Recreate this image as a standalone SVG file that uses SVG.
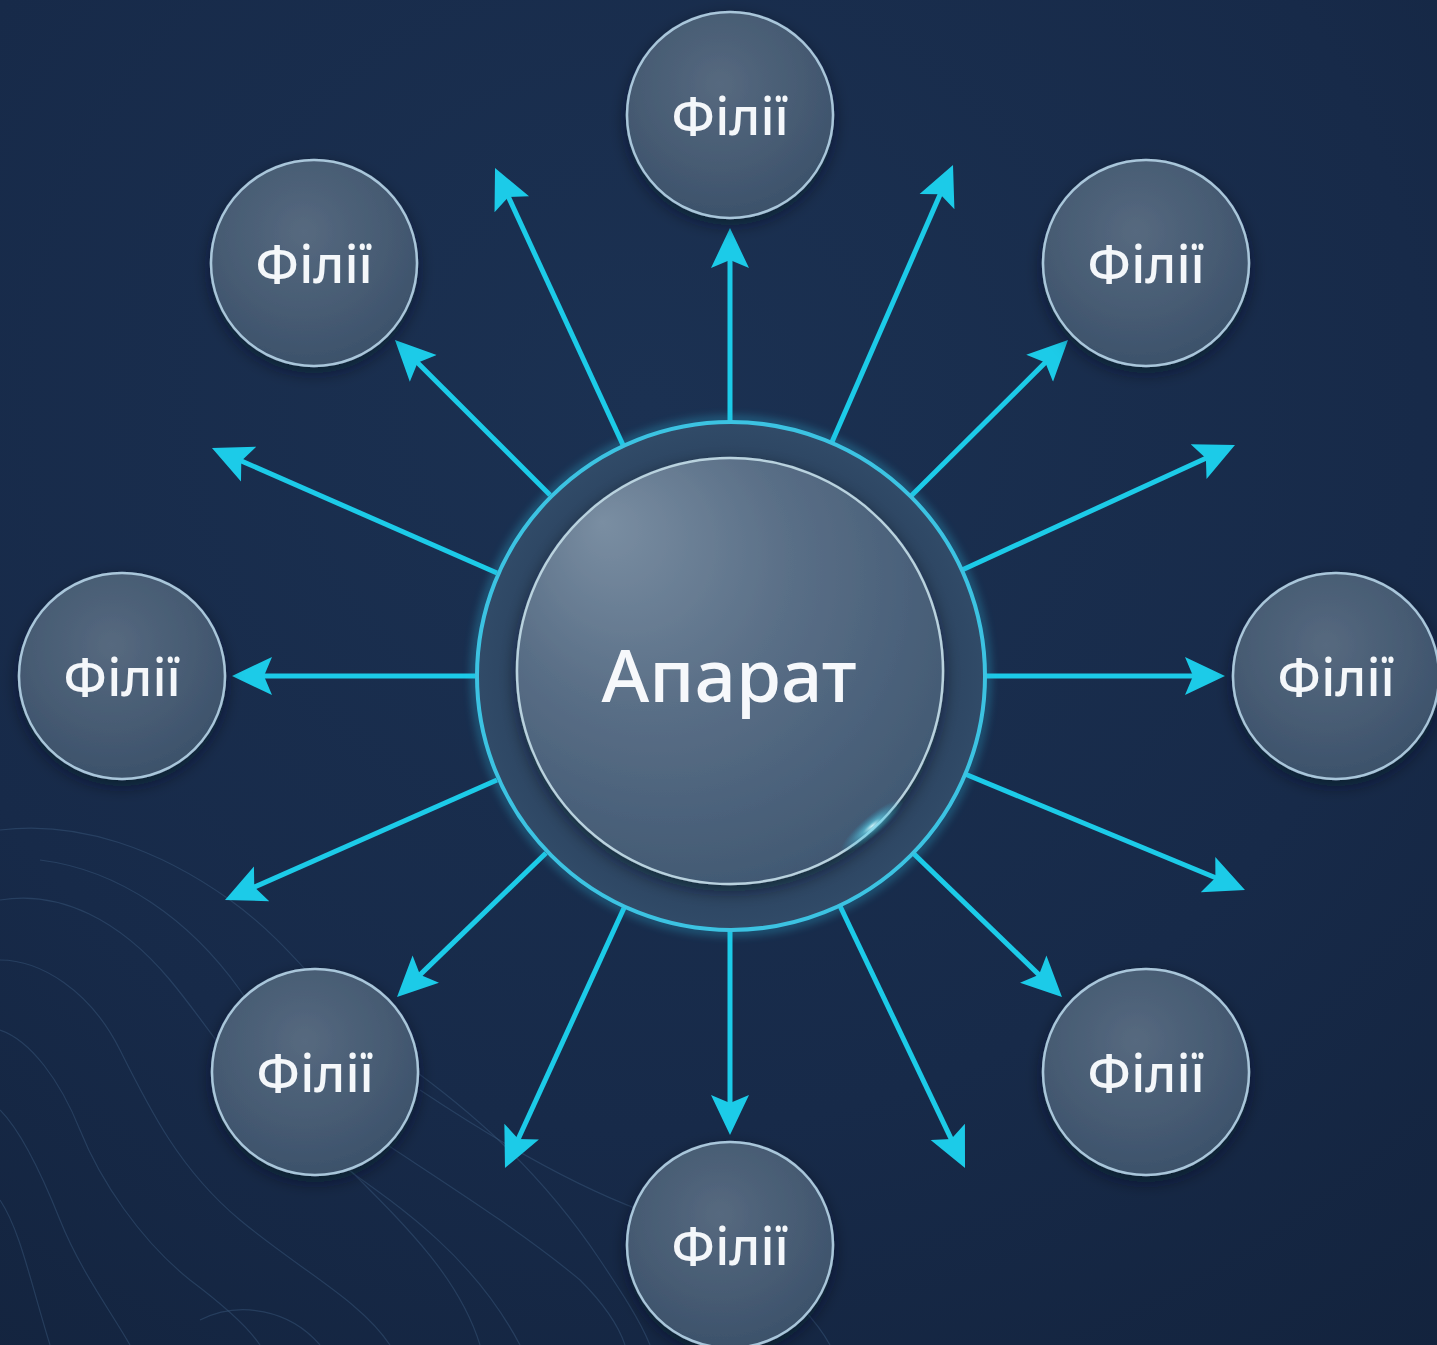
<svg xmlns="http://www.w3.org/2000/svg" width="1437" height="1345" viewBox="0 0 1437 1345">
  <defs>
    <radialGradient id="bg" cx="0.45" cy="0.3" r="0.9">
      <stop offset="0" stop-color="#1b3152"/>
      <stop offset="0.6" stop-color="#172a49"/>
      <stop offset="1" stop-color="#13233d"/>
    </radialGradient>
    <radialGradient id="smallFill" cx="0.45" cy="0.35" r="0.7">
      <stop offset="0" stop-color="#56697f"/>
      <stop offset="0.7" stop-color="#435870"/>
      <stop offset="1" stop-color="#3a4f69"/>
    </radialGradient>
    <radialGradient id="innerFill" cx="0.42" cy="0.35" r="0.75" fx="0.2" fy="0.15">
      <stop offset="0" stop-color="#7a8ea2"/>
      <stop offset="0.45" stop-color="#5a6f87"/>
      <stop offset="1" stop-color="#3d556f"/>
    </radialGradient>
    <radialGradient id="ringFill" cx="0.5" cy="0.5" r="0.5">
      <stop offset="0.8" stop-color="#2b4360"/>
      <stop offset="1" stop-color="#314b68"/>
    </radialGradient>
    <radialGradient id="glint" cx="0.5" cy="0.5" r="0.5">
      <stop offset="0" stop-color="#d8fbff" stop-opacity="0.95"/>
      <stop offset="0.3" stop-color="#5fd8f0" stop-opacity="0.6"/>
      <stop offset="1" stop-color="#2aa8d0" stop-opacity="0"/>
    </radialGradient>
    <filter id="shadow" x="-30%" y="-30%" width="160%" height="160%">
      <feDropShadow dx="0" dy="6" stdDeviation="8" flood-color="#050d1c" flood-opacity="0.55"/>
    </filter>
    <filter id="glow" x="-20%" y="-20%" width="140%" height="140%">
      <feGaussianBlur stdDeviation="4"/>
    </filter>
    <marker id="head" viewBox="0 0 40 40" markerWidth="40" markerHeight="40" markerUnits="userSpaceOnUse" refX="20" refY="20" orient="auto">
      <path d="M0,1 L40,20 L0,39 L8,20 z" fill="#1ccbe8"/>
    </marker>
  </defs>
  <style>
    .conn { stroke: #1ccbe8; stroke-width: 5; fill: none; marker-end: url(#head); }
    .small { fill: url(#smallFill); stroke: #a9c6da; stroke-width: 2.5; filter: url(#shadow); }
    .lbl { font-family: "Noto Sans", "Open Sans", "DejaVu Sans", sans-serif; font-size: 52px; font-weight: 500; fill: #f4f7fa; text-anchor: middle; }
    .topo { fill: none; stroke: #3b5a7e; stroke-width: 1.2; opacity: 0.45; }
  </style>

  <rect x="0" y="0" width="1437" height="1345" fill="url(#bg)"/>

  <g id="topography">
    <path class="topo" d="M0,830 C80,820 160,850 230,900 C300,950 330,1010 400,1060 C470,1110 540,1170 600,1260 C620,1290 640,1320 650,1345"/>
    <path class="topo" d="M0,900 C60,890 120,920 170,980 C220,1040 250,1100 320,1150 C390,1200 470,1250 520,1345"/>
    <path class="topo" d="M0,960 C40,960 90,990 120,1050 C150,1110 180,1170 240,1220 C300,1270 360,1300 390,1345"/>
    <path class="topo" d="M0,1030 C30,1040 60,1080 80,1130 C100,1180 140,1240 190,1280 C230,1310 250,1330 260,1345"/>
    <path class="topo" d="M0,1110 C20,1130 40,1170 60,1220 C80,1270 110,1310 130,1345"/>
    <path class="topo" d="M40,860 C120,870 190,920 240,990 C280,1050 300,1110 350,1170 C410,1230 460,1280 480,1345"/>
    <path class="topo" d="M0,1200 C20,1230 30,1280 50,1345"/>
    <path class="topo" d="M420,1090 C480,1130 560,1180 640,1210 C720,1240 800,1290 830,1345"/>
    <path class="topo" d="M380,1140 C440,1180 520,1230 580,1280 C610,1310 620,1330 625,1345"/>
    <path class="topo" d="M200,1320 C240,1300 290,1310 320,1345"/>
  </g>

  <g id="connectors">
    <path class="conn" d="M730,421 L730,248"/>
    <path class="conn" d="M623,445 L503.4,186.1"/>
    <path class="conn" d="M832,442 L945,183.3"/>
    <path class="conn" d="M550,495 L409.1,354.2"/>
    <path class="conn" d="M911,496 L1053.8,354.1"/>
    <path class="conn" d="M497,573 L230.3,456.1"/>
    <path class="conn" d="M962,570 L1216.8,453.3"/>
    <path class="conn" d="M475,676 L252,676"/>
    <path class="conn" d="M985,676 L1205,676"/>
    <path class="conn" d="M497,780 L243.3,891.9"/>
    <path class="conn" d="M965,774 L1226.5,882.3"/>
    <path class="conn" d="M546,853 L411.4,983.1"/>
    <path class="conn" d="M913,853 L1047.6,983.1"/>
    <path class="conn" d="M624,908 L513.3,1149.8"/>
    <path class="conn" d="M840,906 L956.4,1149.9"/>
    <path class="conn" d="M730,931 L730,1115"/>
  </g>

  <g id="center-node">
    <circle cx="731" cy="676" r="256" fill="none" stroke="#2fb8dc" stroke-width="8" opacity="0.35" filter="url(#glow)"/>
    <circle cx="731" cy="676" r="254" fill="url(#ringFill)" stroke="#3cc3e2" stroke-width="4"/>
    <circle cx="730" cy="671" r="213" fill="url(#innerFill)" stroke="#b9d2de" stroke-width="2.5" filter="url(#shadow)"/>
    <ellipse cx="872" cy="826" rx="40" ry="10" transform="rotate(-40 872 826)" fill="url(#glint)"/>
    <text x="729" y="702" font-family="Noto Sans, Inter, DejaVu Sans, sans-serif" font-size="73" font-weight="500" fill="#f6f8fb" text-anchor="middle">Апарат</text>
  </g>

  <g id="node-top">
    <circle class="small" cx="730" cy="115" r="103"/>
    <text class="lbl" x="730" y="135">Філії</text>
  </g>
  <g id="node-top-right">
    <circle class="small" cx="1146" cy="263" r="103"/>
    <text class="lbl" x="1146" y="283">Філії</text>
  </g>
  <g id="node-right">
    <circle class="small" cx="1336" cy="676" r="103"/>
    <text class="lbl" x="1336" y="696">Філії</text>
  </g>
  <g id="node-bottom-right">
    <circle class="small" cx="1146" cy="1072" r="103"/>
    <text class="lbl" x="1146" y="1092">Філії</text>
  </g>
  <g id="node-bottom">
    <circle class="small" cx="730" cy="1245" r="103"/>
    <text class="lbl" x="730" y="1265">Філії</text>
  </g>
  <g id="node-bottom-left">
    <circle class="small" cx="315" cy="1072" r="103"/>
    <text class="lbl" x="315" y="1092">Філії</text>
  </g>
  <g id="node-left">
    <circle class="small" cx="122" cy="676" r="103"/>
    <text class="lbl" x="122" y="696">Філії</text>
  </g>
  <g id="node-top-left">
    <circle class="small" cx="314" cy="263" r="103"/>
    <text class="lbl" x="314" y="283">Філії</text>
  </g>
</svg>
